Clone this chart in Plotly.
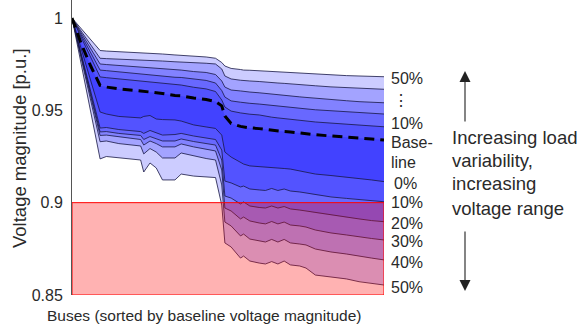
import plotly.graph_objects as go

# ---------------- data (bus index, voltage in p.u.) ----------------
bus = [0, 3, 6, 9, 11, 15, 22, 23, 25, 27, 29, 33, 35, 39, 43, 46, 48, 49, 51, 54,
       55, 57, 60, 62, 64, 66, 68, 70, 73, 75, 78, 83, 88, 92, 96, 100]

upper_50 = [1.0, 0.9940, 0.9881, 0.9824, 0.9821, 0.9818, 0.9812, 0.9812, 0.9810, 0.9808,
            0.9805, 0.9800, 0.9798, 0.9793, 0.9789, 0.9782, 0.9759, 0.9740, 0.9727, 0.9721,
            0.9718, 0.9717, 0.9714, 0.9711, 0.9710, 0.9708, 0.9706, 0.9704, 0.9701, 0.9698,
            0.9696, 0.9691, 0.9688, 0.9686, 0.9684, 0.9682]
upper_40 = [1.0, 0.9927, 0.9854, 0.9782, 0.9780, 0.9778, 0.9773, 0.9772, 0.9770, 0.9768,
            0.9767, 0.9763, 0.9762, 0.9758, 0.9755, 0.9751, 0.9724, 0.9686, 0.9670, 0.9663,
            0.9661, 0.9659, 0.9656, 0.9652, 0.9650, 0.9648, 0.9646, 0.9644, 0.9639, 0.9636,
            0.9633, 0.9627, 0.9623, 0.9619, 0.9617, 0.9614]
upper_30 = [1.0, 0.9916, 0.9832, 0.9751, 0.9748, 0.9743, 0.9735, 0.9734, 0.9732, 0.9729,
            0.9727, 0.9721, 0.9718, 0.9710, 0.9705, 0.9694, 0.9659, 0.9626, 0.9610, 0.9605,
            0.9602, 0.9599, 0.9595, 0.9591, 0.9589, 0.9585, 0.9582, 0.9579, 0.9573, 0.9570,
            0.9565, 0.9558, 0.9552, 0.9547, 0.9544, 0.9541]
upper_20 = [1.0, 0.9905, 0.9811, 0.9718, 0.9715, 0.9708, 0.9697, 0.9695, 0.9693, 0.9690,
            0.9686, 0.9679, 0.9678, 0.9669, 0.9662, 0.9648, 0.9607, 0.9572, 0.9551, 0.9544,
            0.9541, 0.9538, 0.9534, 0.9530, 0.9527, 0.9524, 0.9521, 0.9518, 0.9512, 0.9508,
            0.9503, 0.9497, 0.9491, 0.9487, 0.9483, 0.9480]
upper_10 = [1.0, 0.9894, 0.9786, 0.9681, 0.9677, 0.9670, 0.9659, 0.9657, 0.9655, 0.9652,
            0.9648, 0.9640, 0.9637, 0.9625, 0.9616, 0.9602, 0.9556, 0.9518, 0.9496, 0.9486,
            0.9483, 0.9479, 0.9475, 0.9467, 0.9463, 0.9459, 0.9455, 0.9452, 0.9444, 0.9441,
            0.9437, 0.9431, 0.9426, 0.9421, 0.9415, 0.9411]
baseline = [1.0, 0.9859, 0.9740, 0.9635, 0.9626, 0.9616, 0.9605, 0.9603, 0.9601, 0.9597,
            0.9591, 0.9580, 0.9578, 0.9567, 0.9559, 0.9548, 0.9524, 0.9469, 0.9429, 0.9413,
            0.9409, 0.9405, 0.9401, 0.9396, 0.9394, 0.9388, 0.9385, 0.9383, 0.9376, 0.9372,
            0.9368, 0.9361, 0.9356, 0.9350, 0.9345, 0.9339]
lower_0 = [1.0, 0.9827, 0.9653, 0.9491, 0.9480, 0.9467, 0.9459, 0.9467, 0.9472, 0.9453,
           0.9450, 0.9448, 0.9442, 0.9421, 0.9410, 0.9402, 0.9366, 0.9274, 0.9247, 0.9220,
           0.9209, 0.9199, 0.9196, 0.9193, 0.9190, 0.9188, 0.9185, 0.9182, 0.9172, 0.9166,
           0.9155, 0.9147, 0.9139, 0.9131, 0.9123, 0.9114]
lower_10 = [1.0, 0.9797, 0.9597, 0.9404, 0.9407, 0.9396, 0.9385, 0.9375, 0.9391, 0.9377,
            0.9366, 0.9369, 0.9375, 0.9361, 0.9350, 0.9342, 0.9285, 0.9117, 0.9107, 0.9085,
            0.9090, 0.9074, 0.9069, 0.9066, 0.9077, 0.9066, 0.9074, 0.9063, 0.9058, 0.9052,
            0.9042, 0.9031, 0.9023, 0.9017, 0.9012, 0.9005]
lower_20 = [1.0, 0.9792, 0.9583, 0.9383, 0.9385, 0.9375, 0.9364, 0.9342, 0.9358, 0.9348,
            0.9334, 0.9334, 0.9345, 0.9331, 0.9320, 0.9312, 0.9231, 0.9036, 0.9025, 0.8993,
            0.9004, 0.8982, 0.8974, 0.8971, 0.8982, 0.8971, 0.8979, 0.8966, 0.8960, 0.8955,
            0.8944, 0.8931, 0.8920, 0.8912, 0.8903, 0.8897]
lower_30 = [1.0, 0.9786, 0.9572, 0.9364, 0.9366, 0.9356, 0.9342, 0.9312, 0.9334, 0.9320,
            0.9302, 0.9302, 0.9318, 0.9302, 0.9288, 0.9280, 0.9177, 0.8971, 0.8955, 0.8912,
            0.8922, 0.8901, 0.8890, 0.8885, 0.8898, 0.8885, 0.8895, 0.8879, 0.8874, 0.8868,
            0.8852, 0.8836, 0.8825, 0.8814, 0.8806, 0.8798]
lower_40 = [1.0, 0.9775, 0.9551, 0.9330, 0.9334, 0.9320, 0.9307, 0.9264, 0.9293, 0.9274,
            0.9242, 0.9242, 0.9269, 0.9253, 0.9239, 0.9231, 0.9096, 0.8895, 0.8874, 0.8820,
            0.8830, 0.8803, 0.8793, 0.8787, 0.8801, 0.8787, 0.8801, 0.8782, 0.8776, 0.8771,
            0.8749, 0.8733, 0.8722, 0.8709, 0.8700, 0.8690]
lower_50 = [1.0, 0.9746, 0.9491, 0.9237, 0.9250, 0.9242, 0.9231, 0.9166, 0.9215, 0.9188,
            0.9123, 0.9123, 0.9155, 0.9144, 0.9139, 0.9136, 0.8987, 0.8782, 0.8760, 0.8700,
            0.8711, 0.8684, 0.8673, 0.8668, 0.8681, 0.8668, 0.8684, 0.8663, 0.8657, 0.8646,
            0.8608, 0.8598, 0.8587, 0.8572, 0.8565, 0.8554]

voltage_limit = 0.9
y_min = 0.85
y_ticks = [0.85, 0.9, 0.95, 1.0]
y_tick_text = ["0.85", "0.9", "0.95", "1"]
right_labels = ["50%", "\u22ee", "10%", "Base-", "line", "0%", "10%", "20%", "30%", "40%", "50%"]
note_lines = ["Increasing load", "variability,", "increasing", "voltage range"]

# ---------------- figure ----------------
W, H = 582, 332
ML, MR, MT, MB = 72, 198, 0, 37
PW, PH = W - ML - MR, H - MT - MB


def px(x):
    return (x - ML) / PW


def py(y):
    return (H - MB - y) / PH


FONT = "Liberation Sans, Arial, sans-serif"
TXT = "#2a2a2a"

fig = go.Figure()

bands = [(upper_50, lower_50), (upper_40, lower_40), (upper_30, lower_30),
         (upper_20, lower_20), (upper_10, lower_10), (baseline, lower_0)]
for up, lo in bands:
    fig.add_trace(go.Scatter(
        x=bus + bus[::-1], y=up + lo[::-1], mode="lines", fill="toself",
        fillcolor="rgba(0,0,255,0.2)", line=dict(width=0), hoverinfo="skip",
        showlegend=False))

for series in [upper_50, upper_40, upper_30, upper_20, upper_10,
               lower_0, lower_10, lower_20, lower_30, lower_40, lower_50]:
    fig.add_trace(go.Scatter(x=bus, y=series, mode="lines",
                             line=dict(color="rgba(25,25,70,0.9)", width=0.9),
                             hoverinfo="skip", showlegend=False))

fig.add_trace(go.Scatter(x=bus, y=baseline, mode="lines",
                         line=dict(color="black", width=3, dash="10px,6px"),
                         hoverinfo="skip", showlegend=False))

fig.add_shape(type="rect", xref="x", yref="y", x0=min(bus), x1=max(bus),
              y0=y_min, y1=voltage_limit, fillcolor="rgba(255,0,0,0.3)",
              line=dict(color="red", width=1), layer="above")

ann = []
# axis titles
ann.append(dict(text="Voltage magnitude [p.u.]", xref="paper", yref="paper",
                x=px(19), y=py(148), xanchor="center", yanchor="middle",
                textangle=-90, showarrow=False,
                font=dict(size=18.5, color=TXT, family=FONT)))
ann.append(dict(text="Buses (sorted by baseline voltage magnitude)", xref="paper",
                yref="paper", x=px(204), y=py(315), xanchor="center",
                yanchor="middle", showarrow=False,
                font=dict(size=15.5, color=TXT, family=FONT)))

label_y = [78, 100, 123, 142, 162, 183, 202, 223, 242, 262, 287]
label_x = [389, 391, 389, 389, 389, 392, 389, 389, 389, 389, 389]
for t, xx, yy in zip(right_labels, label_x, label_y):
    ann.append(dict(text=t, xref="paper", yref="paper", x=px(xx), y=py(yy),
                    xanchor="left", yanchor="middle", showarrow=False,
                    font=dict(size=16, color=TXT, family=FONT)))

for t, yy in zip(note_lines, [137, 160, 184, 208]):
    ann.append(dict(text=t, xref="paper", yref="paper", x=px(450), y=py(yy),
                    xanchor="left", yanchor="middle", showarrow=False,
                    font=dict(size=18.5, color=TXT, family=FONT)))

# arrows
ann.append(dict(text="", xref="paper", yref="paper", x=px(465), y=py(71),
                ax=0, ay=52, showarrow=True, arrowhead=2, arrowsize=2,
                arrowwidth=1.1, arrowcolor="#222"))
ann.append(dict(text="", xref="paper", yref="paper", x=px(465), y=py(291),
                ax=0, ay=-61, showarrow=True, arrowhead=2, arrowsize=2,
                arrowwidth=1.1, arrowcolor="#222"))

fig.update_layout(
    width=W, height=H, margin=dict(l=ML, r=MR, t=MT, b=MB),
    paper_bgcolor="white", plot_bgcolor="white", showlegend=False,
    hovermode=False, annotations=ann,
    xaxis=dict(range=[0, 100], showgrid=False, zeroline=False, showline=False,
               showticklabels=False, ticks=""),
    yaxis=dict(range=[0.85, 1.00975], showgrid=False, zeroline=False,
               showline=True, linecolor="#555", linewidth=1, ticks="outside",
               ticklen=5, tickcolor="rgba(0,0,0,0)",
               tickvals=y_ticks, ticktext=y_tick_text,
               tickfont=dict(size=16, color=TXT, family=FONT)),
)

fig.write_html("out.html", config={"displayModeBar": False})
